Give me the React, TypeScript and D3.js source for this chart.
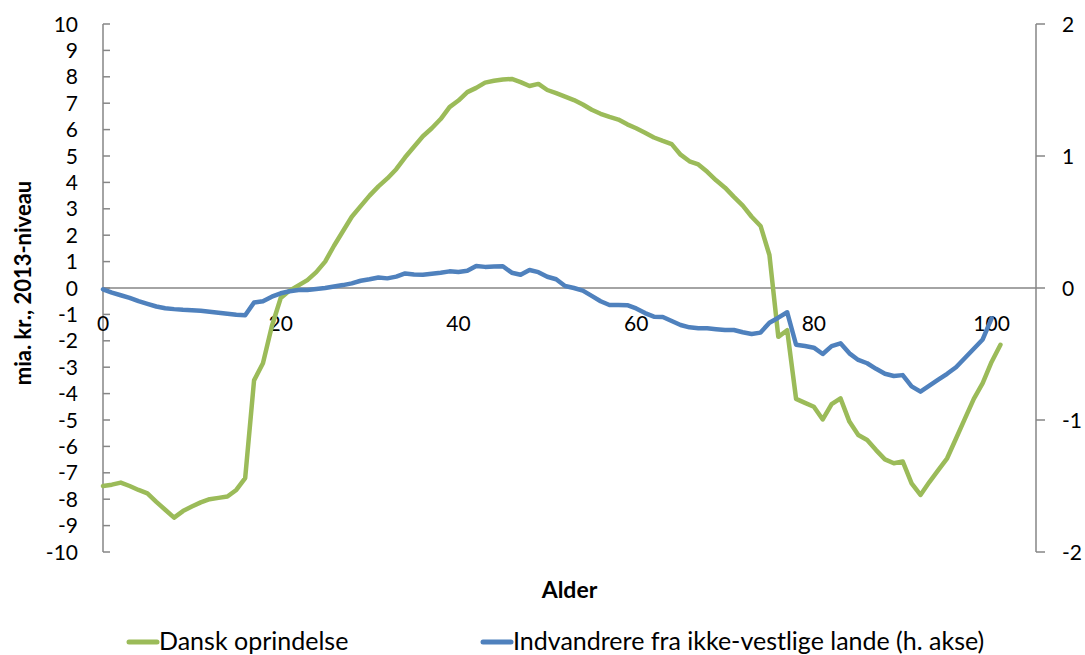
import React from "react";
import * as d3 from "d3";

const ages: number[] = d3.range(0, 102);

const danskValues: number[] = [
  -7.5, -7.45, -7.37, -7.5, -7.65, -7.78, -8.1, -8.4, -8.7, -8.45,
  -8.28, -8.12, -8.0, -7.95, -7.9, -7.65, -7.2, -3.5, -2.85, -1.45,
  -0.38, -0.1, 0.1, 0.3, 0.6, 1.0, 1.6, 2.15, 2.7, 3.1,
  3.5, 3.85, 4.15, 4.5, 4.95, 5.35, 5.75, 6.05, 6.4, 6.85,
  7.1, 7.42, 7.58, 7.78, 7.85, 7.9, 7.92, 7.8, 7.65, 7.73,
  7.5, 7.38, 7.25, 7.12, 6.95, 6.75, 6.6, 6.48, 6.38, 6.2,
  6.05, 5.88, 5.7, 5.57, 5.45, 5.05, 4.8, 4.68, 4.4, 4.08,
  3.8, 3.45, 3.12, 2.7, 2.35, 1.25, -1.85, -1.6, -4.2, -4.35,
  -4.5, -4.98, -4.4, -4.18, -5.06, -5.57, -5.76, -6.14, -6.49, -6.64,
  -6.57, -7.4, -7.84, -7.35, -6.9, -6.45, -5.7, -4.95, -4.2, -3.6,
  -2.8, -2.15,
];

const indvandrerValues: number[] = [
  -0.01, -0.035, -0.055, -0.075, -0.1, -0.12, -0.14, -0.153, -0.16, -0.165,
  -0.168, -0.173, -0.18, -0.188, -0.195, -0.203, -0.207, -0.11, -0.1, -0.066,
  -0.04, -0.025, -0.015, -0.015, -0.008, 0.0, 0.012, 0.022, 0.035, 0.055,
  0.066, 0.08, 0.073, 0.086, 0.11, 0.102, 0.1, 0.108, 0.116, 0.126,
  0.122, 0.13, 0.167, 0.16, 0.162, 0.165, 0.116, 0.1, 0.136, 0.12,
  0.085, 0.066, 0.015, 0.0, -0.02, -0.06, -0.1, -0.129, -0.129, -0.13,
  -0.155, -0.19, -0.217, -0.22, -0.25, -0.28, -0.298, -0.305, -0.305, -0.312,
  -0.318, -0.318, -0.335, -0.348, -0.338, -0.263, -0.225, -0.184, -0.43, -0.44,
  -0.452, -0.5, -0.44, -0.419, -0.495, -0.545, -0.57, -0.612, -0.65, -0.667,
  -0.66, -0.745, -0.785, -0.74, -0.695, -0.65, -0.6, -0.53, -0.46, -0.39,
  -0.23,
];

const leftTicks: number[] = d3.range(-10, 11);
const rightTicks: number[] = [-2, -1, 0, 1, 2];
const xTicks: number[] = [0, 20, 40, 60, 80, 100];

const seriesNames = ["Dansk oprindelse", "Indvandrere fra ikke-vestlige lande (h. akse)"];
const xTitle = "Alder";
const yTitle = "mia. kr., 2013-niveau";

const GREEN = "#9BBB59";
const BLUE = "#4F81BD";
const AXIS = "#868686";
const FONT = "Lato, 'Open Sans', sans-serif";

export default function App() {
  const W = 1085;
  const H = 655;
  const left = 103;
  const right = 1036;
  const top = 24;
  const bottom = 552;

  const x = d3.scaleLinear().domain([0, 105]).range([left, right]);
  const yL = d3.scaleLinear().domain([-10, 10]).range([bottom, top]);
  const yR = d3.scaleLinear().domain([-2, 2]).range([bottom, top]);

  const greenLine = d3
    .line<number>()
    .x((_, i) => x(ages[i]))
    .y((v) => yL(v));
  const blueLine = d3
    .line<number>()
    .x((_, i) => x(ages[i]))
    .y((v) => yR(v));

  return (
    <svg
      width={W}
      height={H}
      style={{ position: "absolute", left: 0, top: 0, background: "#fff" }}
      fontFamily={FONT}
    >
      {/* left axis */}
      <line x1={left} x2={left} y1={top} y2={bottom} stroke={AXIS} strokeWidth={1.5} />
      {leftTicks.map((t) => (
        <g key={"l" + t}>
          <line x1={left} x2={left + 7} y1={yL(t)} y2={yL(t)} stroke={AXIS} strokeWidth={1.5} />
          <text x={78} y={yL(t)} dy="0.36em" textAnchor="end" fontSize={21} fill="#000">
            {t}
          </text>
        </g>
      ))}
      {/* right axis */}
      <line x1={right} x2={right} y1={top} y2={bottom} stroke={AXIS} strokeWidth={1.5} />
      {rightTicks.map((t) => (
        <g key={"r" + t}>
          <line x1={right} x2={right + 9} y1={yR(t)} y2={yR(t)} stroke={AXIS} strokeWidth={1.5} />
          <text x={1062} y={yR(t)} dy="0.36em" textAnchor="start" fontSize={21} fill="#000">
            {t}
          </text>
        </g>
      ))}
      {/* x axis at zero */}
      <line x1={left} x2={right} y1={yL(0)} y2={yL(0)} stroke={AXIS} strokeWidth={1.5} />
      {xTicks.map((t) => (
        <text key={"x" + t} x={x(t)} y={331} textAnchor="middle" fontSize={21} fill="#000">
          {t}
        </text>
      ))}

      {/* series */}
      <path d={greenLine(danskValues) || ""} fill="none" stroke={GREEN} strokeWidth={4.5} strokeLinejoin="round" strokeLinecap="round" />
      <path d={blueLine(indvandrerValues) || ""} fill="none" stroke={BLUE} strokeWidth={4.5} strokeLinejoin="round" strokeLinecap="round" />

      {/* titles */}
      <text x={(left + right) / 2} y={598} textAnchor="middle" fontSize={23} fontWeight="bold" fill="#000">
        {xTitle}
      </text>
      <text
        transform={`translate(31, 283) rotate(-90)`}
        textAnchor="middle"
        fontSize={22}
        fontWeight="bold"
        fill="#000"
      >
        {yTitle}
      </text>

      {/* legend */}
      <line x1={129} x2={157} y1={642} y2={642} stroke={GREEN} strokeWidth={5} strokeLinecap="round" />
      <text x={159} y={650} fontSize={25} fill="#000">
        {seriesNames[0]}
      </text>
      <line x1={483} x2={511} y1={642} y2={642} stroke={BLUE} strokeWidth={5} strokeLinecap="round" />
      <text x={513} y={650} fontSize={25} fill="#000">
        {seriesNames[1]}
      </text>
    </svg>
  );
}
